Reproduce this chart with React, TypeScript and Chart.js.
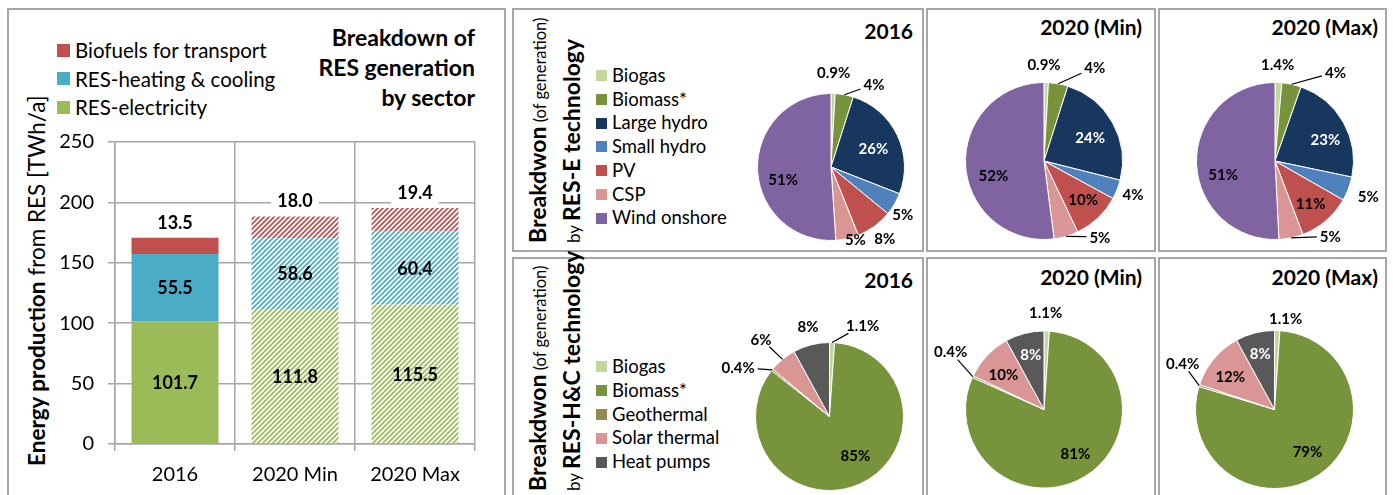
import React, { useEffect, useRef } from 'react';
import { Chart, registerables } from 'chart.js';
Chart.register(...registerables);

// ---------- DATA ----------
const barCategories = ['2016', '2020 Min', '2020 Max'];
const resElectricity = [101.7, 111.8, 115.5];
const resHeating = [55.5, 58.6, 60.4];
const biofuels = [13.5, 18.0, 19.4];
const yTicks = [0, 50, 100, 150, 200, 250];

const resETech = ['Biogas', 'Biomass*', 'Large hydro', 'Small hydro', 'PV', 'CSP', 'Wind onshore'];
const resE2016 = [0.9, 4, 26, 5, 8, 5, 51];
const resE2020Min = [0.9, 4, 24, 4, 10, 5, 52];
const resE2020Max = [1.4, 4, 23, 5, 11, 5, 51];

const resHCTech = ['Biogas', 'Biomass*', 'Geothermal', 'Solar thermal', 'Heat pumps'];
const resHC2016 = [1.1, 85, 0.4, 6, 8];
const resHC2020Min = [1.1, 81, 0.4, 10, 8];
const resHC2020Max = [1.1, 79, 0.4, 12, 8];

const pieTitles = ['2016', '2020 (Min)', '2020 (Max)'];
const sectorLegend = ['Biofuels for transport', 'RES-heating & cooling', 'RES-electricity'];

// ---------- STYLES ----------
const FONT = 'Lato, "Open Sans", sans-serif';
const C_BIO = '#c0504d';
const C_HEAT = '#4bacc6';
const C_ELEC = '#9bbb59';
const GRID = '#a6a6a6';
const eColors = ['#c3d69b', '#77933c', '#17375e', '#4f81bd', '#c0504d', '#d99694', '#8064a2'];
const hcColors = ['#c3d69b', '#77933c', '#948a54', '#d99694', '#595959'];

// label placement: [radius factor, angle shift (deg), leader line]
type Place = [number, number, number];
const placeE2016: Place[] = [[1.29, 0, 0], [1.27, 17, 1], [0.63, 2, 0], [1.17, 3, 0], [1.21, -1, 0], [1.03, -6, 0], [0.67, -12, 0]];
const placeE2020Min: Place[] = [[1.24, -1.6, 0], [1.36, 18, 1], [0.66, 2, 0], [1.21, -1, 0], [0.7, -2, 0], [1.2, -20, 1], [0.67, -12, 0]];
const placeE2020Max: Place[] = [[1.24, -1, 0], [1.37, 22, 1], [0.7, 6, 0], [1.27, 0, 0], [0.7, 0, 0], [1.19, -24.5, 1], [0.68, -12.6, 0]];
const placeHC2016: Place[] = [[1.31, 18, 1], [0.63, -10, 0], [1.4, -11, 1], [1.4, -2, 1], [1.26, 1, 0]];
const placeHC2020Min: Place[] = [[1.24, -1, 0], [0.68, -5, 0], [1.4, 7, 1], [0.69, -2, 0], [0.73, 1, 0]];
const placeHC2020Max: Place[] = [[1.16, 5, 0], [0.67, -4, 0], [1.3, 9, 1], [0.7, -3, 0], [0.73, 0, 0]];

function makeHatch(ctx: CanvasRenderingContext2D, color: string) {
  const s = 5;
  const c = document.createElement('canvas');
  c.width = s;
  c.height = s;
  const g = c.getContext('2d')!;
  g.fillStyle = '#fff';
  g.fillRect(0, 0, s, s);
  g.strokeStyle = color;
  g.lineWidth = 1.7;
  g.beginPath();
  g.moveTo(-1, s + 1);
  g.lineTo(s + 1, -1);
  g.moveTo(-s / 2 - 1, s / 2 + 1);
  g.lineTo(s / 2 + 1, -s / 2 - 1);
  g.moveTo(s / 2 - 1, s * 1.5 + 1);
  g.lineTo(s * 1.5 + 1, s / 2 - 1);
  g.stroke();
  return ctx.createPattern(c, 'repeat');
}

const barLabelPlugin = {
  id: 'barLabels',
  afterDatasetsDraw(chart: any) {
    const ctx = chart.ctx as CanvasRenderingContext2D;
    ctx.save();
    ctx.font = `bold 18px ${FONT}`;
    ctx.textAlign = 'center';
    ctx.textBaseline = 'middle';
    chart.data.datasets.forEach((ds: any, di: number) => {
      const meta = chart.getDatasetMeta(di);
      meta.data.forEach((bar: any, i: number) => {
        const v = ds.data[i] as number;
        const txt = v.toFixed(1);
        const { x, y, base } = bar.getProps(['x', 'y', 'base'], true);
        if (di === chart.data.datasets.length - 1) {
          const ty = y - 16;
          const w = ctx.measureText(txt).width + 12;
          ctx.fillStyle = '#fff';
          ctx.fillRect(x - w / 2, ty - 13, w, 27);
          ctx.fillStyle = '#000';
          ctx.fillText(txt, x, ty + 1);
        } else {
          ctx.fillStyle = '#000';
          ctx.fillText(txt, x, (y + base) / 2 + 1);
        }
      });
    });
    ctx.restore();
  },
};

const pieLabelPlugin = {
  id: 'pieLabels',
  afterDatasetsDraw(chart: any, _args: any, opts: any) {
    const ctx = chart.ctx as CanvasRenderingContext2D;
    const meta = chart.getDatasetMeta(0);
    const data = chart.data.datasets[0].data as number[];
    ctx.save();
    ctx.font = `bold ${opts.fontSize}px ${FONT}`;
    ctx.textAlign = 'center';
    ctx.textBaseline = 'middle';
    meta.data.forEach((arc: any, i: number) => {
      const { x, y, startAngle, endAngle, outerRadius } = arc.getProps(['x', 'y', 'startAngle', 'endAngle', 'outerRadius'], true);
      const [f, da, line] = opts.place[i] as Place;
      const mid = (startAngle + endAngle) / 2;
      const a = mid + (da * Math.PI) / 180;
      const lx = x + Math.cos(a) * outerRadius * f;
      const ly = y + Math.sin(a) * outerRadius * f;
      const v = data[i];
      const txt = (v < 2 ? v.toFixed(1) : v.toFixed(0)) + '%';
      if (line) {
        const sx = x + Math.cos(mid) * outerRadius;
        const sy = y + Math.sin(mid) * outerRadius;
        const hw = ctx.measureText(txt).width / 2 + 3;
        const hh = 8;
        const dx = sx - lx;
        const dy = sy - ly;
        const t = Math.min(dx !== 0 ? hw / Math.abs(dx) : Infinity, dy !== 0 ? hh / Math.abs(dy) : Infinity);
        ctx.strokeStyle = '#000';
        ctx.lineWidth = 1.2;
        ctx.beginPath();
        ctx.moveTo(sx, sy);
        ctx.lineTo(lx + dx * t, ly + dy * t);
        ctx.stroke();
      }
      ctx.fillStyle = opts.white.includes(i) ? '#fff' : '#000';
      ctx.fillText(txt, lx, ly + 1);
    });
    ctx.restore();
  },
};

function BarPanel() {
  const ref = useRef<HTMLCanvasElement>(null);
  useEffect(() => {
    const canvas = ref.current!;
    const ctx = canvas.getContext('2d')!;
    const hE = makeHatch(ctx, C_ELEC);
    const hH = makeHatch(ctx, C_HEAT);
    const hB = makeHatch(ctx, C_BIO);
    const tickFont = { family: FONT, size: 20 };
    const chart = new Chart(canvas, {
      type: 'bar',
      data: {
        labels: barCategories,
        datasets: [
          { label: sectorLegend[2], data: resElectricity, backgroundColor: [C_ELEC, hE, hE] as any },
          { label: sectorLegend[1], data: resHeating, backgroundColor: [C_HEAT, hH, hH] as any },
          { label: sectorLegend[0], data: biofuels, backgroundColor: [C_BIO, hB, hB] as any },
        ],
      },
      options: {
        animation: false,
        responsive: false,
        events: [],
        layout: { padding: { top: 21, right: 25, left: 0, bottom: 0 } },
        datasets: { bar: { barPercentage: 0.725, categoryPercentage: 1 } },
        scales: {
          x: {
            stacked: true,
            grid: { offset: true, color: GRID, lineWidth: 1.5, tickLength: 7 },
            border: { color: GRID, width: 1.5 },
            ticks: { color: '#000', font: tickFont, padding: 12 },
            afterFit: (s: any) => { s.height = 51; },
          },
          y: {
            stacked: true,
            min: 0,
            max: 250,
            afterBuildTicks: (s: any) => { s.ticks = yTicks.map((v) => ({ value: v })); },
            grid: { color: GRID, lineWidth: 1.5, tickLength: 7 },
            border: { color: GRID, width: 1.5 },
            ticks: { color: '#000', font: tickFont, padding: 14 },
            afterFit: (s: any) => { s.width = 95; },
          },
        },
        plugins: { legend: { display: false }, tooltip: { enabled: false } },
      } as any,
      plugins: [barLabelPlugin as any],
    });
    return () => chart.destroy();
  }, []);
  return <canvas ref={ref} width={480} height={379} style={{ position: 'absolute', left: 20, top: 116, width: 480, height: 379 }} />;
}

type PieProps = {
  left: number; top: number; width: number; height: number;
  values: number[]; labels: string[]; colors: string[]; place: Place[]; white: number[];
  padding: { left: number; right: number; top: number; bottom: number };
};

function PieCanvas(p: PieProps) {
  const ref = useRef<HTMLCanvasElement>(null);
  useEffect(() => {
    const chart = new Chart(ref.current!, {
      type: 'pie',
      data: {
        labels: p.labels,
        datasets: [{ data: p.values, backgroundColor: p.colors, borderColor: '#fff', borderWidth: 1, hoverOffset: 0, offset: 0 } as any],
      },
      options: {
        animation: false,
        responsive: false,
        events: [],
        layout: { padding: p.padding },
        plugins: {
          legend: { display: false },
          tooltip: { enabled: false },
          pieLabels: { place: p.place, white: p.white, fontSize: 15 },
        },
      } as any,
      plugins: [pieLabelPlugin as any],
    });
    return () => chart.destroy();
  }, []);
  return <canvas ref={ref} width={p.width} height={p.height} style={{ position: 'absolute', left: p.left, top: p.top, width: p.width, height: p.height }} />;
}

const panelStyle = (left: number, top: number, width: number, height: number): React.CSSProperties => ({
  position: 'absolute', left, top, width, height, border: '2px solid #a6a6a6', boxSizing: 'border-box',
});

function Legend({ items, colors, left, top, gap, size, font }: { items: string[]; colors: string[]; left: number; top: number; gap: number; size: number; font: number }) {
  return (
    <div style={{ position: 'absolute', left, top }}>
      {items.map((t, i) => (
        <div key={t} style={{ position: 'absolute', left: 0, top: i * gap, height: gap, display: 'flex', alignItems: 'center', whiteSpace: 'nowrap', fontSize: font, lineHeight: `${gap}px` }}>
          <span style={{ display: 'inline-block', width: size, height: size, background: colors[i], marginRight: 5 }} />
          <span>{t}</span>
        </div>
      ))}
    </div>
  );
}

function PieTitle({ text, right, cy }: { text: string; right: number; cy: number }) {
  return (
    <div style={{ position: 'absolute', right: 1393 - right, top: cy - 15, lineHeight: '30px', fontSize: 21, fontWeight: 700, whiteSpace: 'nowrap' }}>{text}</div>
  );
}

function RotTitle({ tech, left, bottom }: { tech: string; left: number; bottom: number }) {
  return (
    <div style={{ position: 'absolute', left, top: bottom, transformOrigin: '0 0', transform: 'rotate(-90deg)', whiteSpace: 'nowrap', lineHeight: '31px' }}>
      <div><span style={{ fontWeight: 700, fontSize: 23 }}>Breakdwon</span><span style={{ fontSize: 16.5 }}> (of generation)</span></div>
      <div><span style={{ fontSize: 17 }}>by </span><span style={{ fontWeight: 700, fontSize: 23 }}>{tech}</span></div>
    </div>
  );
}

export default function App() {
  return (
    <div style={{ position: 'absolute', left: 0, top: 0, width: 1393, height: 495, overflow: 'hidden', background: '#fff', fontFamily: FONT, color: '#000' }}>
      {/* Left panel */}
      <div style={panelStyle(7, 8, 499, 500)} />
      <Legend items={sectorLegend} colors={[C_BIO, C_HEAT, C_ELEC]} left={57} top={36} gap={28.5} size={13} font={20.5} />
      <div style={{ position: 'absolute', right: 1393 - 475, top: 22, textAlign: 'right', fontWeight: 700, fontSize: 23, lineHeight: '30px', whiteSpace: 'nowrap' }}>
        Breakdown of<br />RES generation<br />by sector
      </div>
      <div style={{ position: 'absolute', left: 23, top: 466, transformOrigin: '0 0', transform: 'rotate(-90deg)', whiteSpace: 'nowrap', lineHeight: '28px', fontSize: 22.5 }}>
        <span style={{ fontWeight: 700 }}>Energy production</span> from RES [TWh/a]
      </div>
      <BarPanel />

      {/* Top row panels */}
      <div style={panelStyle(512, 8, 412, 244)} />
      <div style={panelStyle(926, 8, 230, 244)} />
      <div style={panelStyle(1158, 8, 229, 244)} />
      {/* Bottom row panels */}
      <div style={panelStyle(512, 257, 412, 250)} />
      <div style={panelStyle(926, 257, 230, 250)} />
      <div style={panelStyle(1158, 257, 229, 250)} />

      <RotTitle tech="RES-E technology" left={521.5} bottom={243} />
      <RotTitle tech="RES-H&C technology" left={521.5} bottom={491} />

      <Legend items={resETech} colors={eColors} left={596} top={64} gap={23.7} size={11} font={18.5} />
      <Legend items={resHCTech} colors={hcColors} left={596} top={355} gap={23.8} size={11} font={18.5} />

      <PieTitle text={pieTitles[0]} right={913} cy={31} />
      <PieTitle text={pieTitles[1]} right={1142} cy={27} />
      <PieTitle text={pieTitles[2]} right={1378} cy={27} />
      <PieTitle text={pieTitles[0]} right={913} cy={280} />
      <PieTitle text={pieTitles[1]} right={1142} cy={277} />
      <PieTitle text={pieTitles[2]} right={1378} cy={277} />

      <PieCanvas left={514} top={10} width={408} height={240} values={resE2016} labels={resETech} colors={eColors} place={placeE2016} white={[2]} padding={{ left: 243, right: 17, top: 83, bottom: 9 }} />
      <PieCanvas left={928} top={10} width={226} height={240} values={resE2020Min} labels={resETech} colors={eColors} place={placeE2020Min} white={[2]} padding={{ left: 37, right: 31, top: 72, bottom: 10 }} />
      <PieCanvas left={1160} top={10} width={225} height={240} values={resE2020Max} labels={resETech} colors={eColors} place={placeE2020Max} white={[2]} padding={{ left: 36, right: 31, top: 72, bottom: 10 }} />

      <PieCanvas left={514} top={259} width={408} height={236} values={resHC2016} labels={resHCTech} colors={hcColors} place={placeHC2016} white={[]} padding={{ left: 241, right: 18, top: 83, bottom: 4 }} />
      <PieCanvas left={928} top={259} width={226} height={236} values={resHC2020Min} labels={resHCTech} colors={hcColors} place={placeHC2020Min} white={[4]} padding={{ left: 37, right: 31, top: 71.5, bottom: 6.5 }} />
      <PieCanvas left={1160} top={259} width={225} height={236} values={resHC2020Max} labels={resHCTech} colors={hcColors} place={placeHC2020Max} white={[4]} padding={{ left: 35, right: 31, top: 71, bottom: 6 }} />
    </div>
  );
}
